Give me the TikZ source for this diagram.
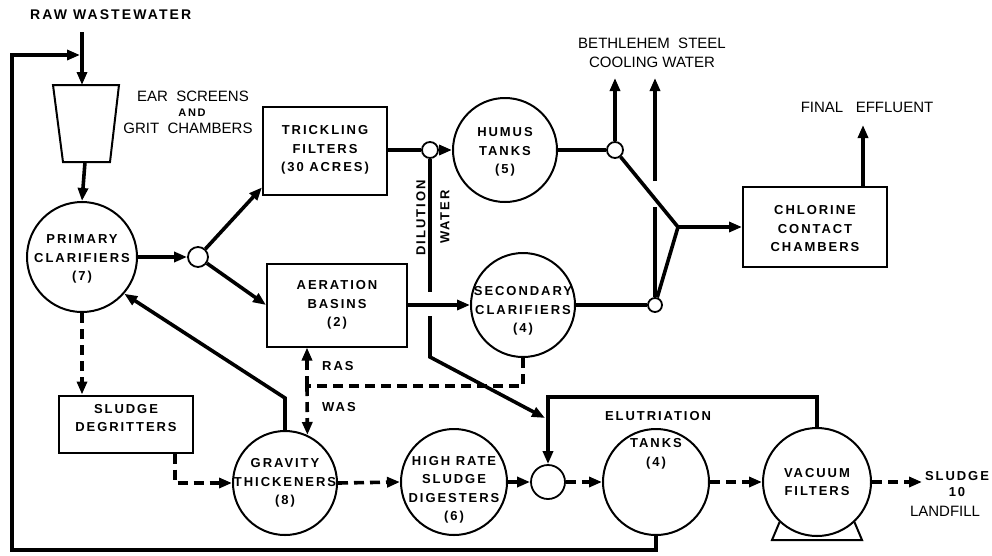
\documentclass[tikz,border=0pt]{standalone}
\usepackage{fontspec}
\setmainfont{Liberation Sans}
\newfontfamily\lblfont[LetterSpace=15]{Liberation Sans}
\usetikzlibrary{arrows.meta,calc}
\begin{document}
\begin{tikzpicture}[x=1pt,y=-1pt,
  tip/.style={-{Triangle[length=13pt,width=10pt]}},
  conn/.style={line width=3.6pt},
  dconn/.style={line width=3.6pt, dash pattern=on 10pt off 6pt},
  unit/.style={draw, line width=2pt, fill=white, inner sep=0pt},
  tank/.style={unit, circle},
  box/.style={unit, rectangle},
  junc/.style={draw, circle, line width=1.8pt, fill=white, inner sep=0pt},
  lab/.style={font=\lblfont\bfseries\fontsize{13}{18.5}\selectfont, align=center, inner sep=0pt},
  biglab/.style={lab, font=\lblfont\bfseries\fontsize{14}{18}\selectfont},
  smalllab/.style={lab, font=\lblfont\bfseries\fontsize{11}{14}\selectfont},
  txt/.style={font=\fontsize{15}{19}\selectfont, align=center, inner sep=0pt},
]
\useasboundingbox (0,0) rectangle (992,555);

% ---------- units ----------
\draw[line width=2pt] (53,85) -- (119,85) -- (110,162) -- (63,162) -- cycle;
\coordinate (scrT) at (82,85);
\coordinate (scrB) at (85,162);

\node[tank, minimum size=110pt] (prim) at (82,257) {};
\node[junc, minimum size=20pt] (j1) at (198,257) {};
\node[box, minimum width=124pt, minimum height=88pt] (tf) at (325,151) {};
\node[junc, minimum size=16pt] (j2) at (430,150) {};
\node[tank, minimum size=104pt] (humus) at (505,150) {};
\node[junc, minimum size=16pt] (j3) at (615,150) {};
\node[box, minimum width=140pt, minimum height=83pt] (aer) at (337,305) {};
\node[tank, minimum size=104pt] (sec) at (523,305) {};
\node[junc, minimum size=14pt] (j4) at (655,305) {};
\coordinate (mg) at (678,227);
\node[box, minimum width=144pt, minimum height=80pt] (cl) at (815,227) {};
\node[box, minimum width=134pt, minimum height=57pt] (deg) at (126,424) {};
\node[tank, minimum size=104pt] (grav) at (285,483) {};
\node[tank, minimum size=106pt] (hr) at (454,482) {};
\node[junc, minimum size=34pt] (j5) at (548,482) {};
\node[tank, minimum size=106pt] (elu) at (656,482) {};
\node[tank, minimum size=108pt] (vac) at (817,482) {};
\draw[line width=2pt] (vac.-133) -- (772,540) -- (862,540) -- (vac.-47);

% ---------- free ends ----------
\coordinate (rawS) at (82,32);
\coordinate (loopA) at (656,550);
\coordinate (loopB) at (12,550);
\coordinate (loopC) at (12,55);
\coordinate (loopD) at (80,55);
\coordinate (bs1) at (615,78);
\coordinate (gapLo) at (655,207);
\coordinate (gapHi) at (655,181);
\coordinate (bs2) at (655,78);
\coordinate (fe) at (863,125);
\coordinate (dw1) at (430,292);
\coordinate (dw2) at (430,316);
\coordinate (dw3) at (430,357);
\coordinate (dw4) at (545,418);
\coordinate (rw) at (307,386);
\coordinate (gt1) at (285,398);
\coordinate (vr1) at (817,397);
\coordinate (vr2) at (548,397);
\coordinate (degC) at (175,483);
\coordinate (out) at (922,482);

% ---------- solid connectors ----------
\draw[conn,tip] (rawS) -- (scrT);
\draw[conn,tip] (elu.south) -- (loopA) -- (loopB) -- (loopC) -- (loopD);
\draw[conn,tip] (scrB) -- (prim.north);
\draw[conn,tip] (prim.east) -- (j1.west);
\draw[conn,tip] (j1) -- (tf.210);
\draw[conn,tip] (j1) -- (aer.west);
\draw[conn] (tf.east |- j2) -- (j2.west);
\draw[conn,tip] (j2.east) -- (humus.west);
\draw[conn] (humus.east) -- (j3.west);
\draw[conn,tip] (j3.north) -- (bs1);
\draw[conn] (j4.north) -- (gapLo);
\draw[conn,tip] (gapHi) -- (bs2);
\draw[conn] (j3) -- (mg);
\draw[conn] (j4) -- (mg);
\draw[conn,tip] (mg) -- (cl.west);
\draw[conn,tip] (fe |- cl.north) -- (fe);
\draw[conn,tip] (aer.east) -- (sec.west);
\draw[conn] (sec.east) -- (j4.west);
\draw[conn] (j2.south) -- (dw1);
\draw[conn,tip] (dw2) -- (dw3) -- (dw4);
\draw[conn,tip] (grav.north) -- (gt1) -- (prim.-41);
\draw[conn,tip] (vac.north) -- (vr1) -- (vr2) -- (j5.north);

% ---------- dashed connectors ----------
\draw[dconn,tip] (prim.south) -- (prim.south |- deg.north);
\draw[dconn,tip] (degC |- deg.south) -- (degC) -- (grav.west);
\draw[dconn,tip] (rw) -- (aer.south -| rw);
\draw[dconn,tip] (rw) -- (grav.65);
\draw[dconn] (sec.south) -- (sec.south |- rw) -- (rw);
\draw[dconn,tip] (grav.east) -- (hr.west);
\draw[dconn,tip] (hr.east) -- (j5.west);
\draw[dconn,tip] (j5.east) -- (elu.west);
\draw[dconn,tip] (elu.east) -- (vac.west);
\draw[dconn,tip] (vac.east) -- (out);

% ---------- texts ----------
\node[biglab, anchor=west] (rawT) at (30,15) {RAW WASTEWATER};
\node[txt] (earT) at (193,96) {EAR\ \ SCREENS};
\node[smalllab] (andT) at (192,113) {AND};
\node[txt] (gritT) at (188,128) {GRIT\ \ CHAMBERS};
\node[lab] (primT) at (82,259) {PRIMARY\\CLARIFIERS\\(7)};
\node[lab] (tfT) at (325,150) {TRICKLING\\FILTERS\\(30 ACRES)};
\node[lab] (humusT) at (505,152) {HUMUS\\TANKS\\(5)};
\node[lab] (aerT) at (337,305) {AERATION\\BASINS\\(2)};
\node[lab] (secT) at (523,311) {SECONDARY\\CLARIFIERS\\(4)};
\node[lab] (clT) at (815,229) {CHLORINE\\CONTACT\\CHAMBERS};
\node[lab] (degT) at (126,418) {SLUDGE\\DEGRITTERS};
\node[lab] (gravT) at (285,483) {GRAVITY\\THICKENERS\\(8)};
\node[lab] (hrT) at (454,490) {HIGH RATE\\SLUDGE\\DIGESTERS\\(6)};
\node[lab] (eluT) at (656,454) {TANKS\\(4)};
\node[lab] (vacT) at (817,482) {VACUUM\\FILTERS};
\node[lab] (eluH) at (658,416) {ELUTRIATION};
\node[lab, rotate=90] (dilT) at (421,218) {DILUTION};
\node[lab, rotate=90] (watT) at (445,217) {WATER};
\node[lab, anchor=west] (rasT) at (322,366) {RAS};
\node[lab, anchor=west] (wasT) at (322,407) {WAS};
\node[txt] (bsT) at (652,53) {BETHLEHEM\ \ STEEL\\COOLING WATER};
\node[txt] (feT) at (867,107) {FINAL\ \ \ EFFLUENT};
\node[lab, font=\lblfont\bfseries\fontsize{13}{16}\selectfont] (slT) at (957,484) {SLUDGE\\10};
\node[txt] (lfT) at (945,511) {LANDFILL};
\end{tikzpicture}
\end{document}
